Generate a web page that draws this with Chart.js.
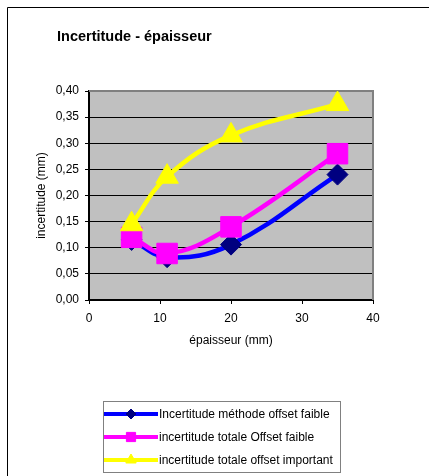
<!DOCTYPE html>
<html>
<head>
<meta charset="utf-8">
<script src="https://cdn.jsdelivr.net/npm/chart.js@4"></script>
<style>
  html, body { margin: 0; padding: 0; background: #fff; overflow: hidden; }
  canvas { display: block; }
</style>
</head>
<body>
<canvas id="incertitudeChart" width="429" height="476"></canvas>
<script>
// Données
const epaisseur = [6, 11, 20, 35];
const methodeOffsetFaible = [0.115, 0.082, 0.106, 0.24];
const totaleOffsetFaible = [0.12, 0.089, 0.14, 0.28];
const totaleOffsetImportant = [0.145, 0.236, 0.315, 0.375];
const yTicks = [0, 0.05, 0.10, 0.15, 0.20, 0.25, 0.30, 0.35, 0.40];
const xTicks = [0, 10, 20, 30, 40];
const seriesLabels = [
    'Incertitude méthode offset faible',
    'incertitude totale Offset faible',
    'incertitude totale offset important'
];

const FONT = 'Liberation Sans, Arial, sans-serif';

function toPoints(ys) {
    return epaisseur.map((x, i) => ({ x: x, y: ys[i] }));
}

// Cadre, fond gris, titre et légende façon Excel
const excelLook = {
    id: 'excelLook',
    beforeDraw(chart) {
        const ctx = chart.ctx;
        const a = chart.chartArea;
        ctx.save();
        ctx.fillStyle = '#fff';
        ctx.fillRect(0, 0, chart.width, chart.height);
        ctx.strokeStyle = '#000';
        ctx.lineWidth = 1;
        ctx.beginPath();
        ctx.moveTo(7.5, chart.height);
        ctx.lineTo(7.5, 7.5);
        ctx.lineTo(chart.width, 7.5);
        ctx.stroke();
        ctx.fillStyle = '#C0C0C0';
        ctx.fillRect(a.left, a.top, a.right - a.left, a.bottom - a.top);
        ctx.restore();
    },
    beforeDatasetsDraw(chart) {
        const ctx = chart.ctx;
        const a = chart.chartArea;
        ctx.save();
        ctx.strokeStyle = '#808080';
        ctx.lineWidth = 2;
        ctx.beginPath();
        ctx.moveTo(a.left, a.top);
        ctx.lineTo(a.right, a.top);
        ctx.lineTo(a.right, a.bottom);
        ctx.stroke();
        ctx.restore();
    },
    afterDraw(chart) {
        const ctx = chart.ctx;
        ctx.save();
        // titre
        ctx.fillStyle = '#000';
        ctx.font = 'bold 14.5px ' + FONT;
        ctx.textAlign = 'left';
        ctx.textBaseline = 'alphabetic';
        ctx.fillText('Incertitude - épaisseur', 57, 41);

        // légende
        ctx.strokeStyle = '#808080';
        ctx.lineWidth = 1;
        ctx.strokeRect(103.5, 401.5, 237, 71);
        const rows = [414, 437, 460];
        const styles = [
            { line: '#0000FF', fill: '#000080', shape: 'rectRot', r: 5 },
            { line: '#FF00FF', fill: '#FF00FF', shape: 'rect', r: 6.5 },
            { line: '#FFFF00', fill: '#FFFF00', shape: 'triangle', r: 6 }
        ];
        rows.forEach((y, i) => {
            const s = styles[i];
            ctx.strokeStyle = s.line;
            ctx.lineWidth = 4;
            ctx.beginPath();
            ctx.moveTo(104, y);
            ctx.lineTo(158, y);
            ctx.stroke();
            ctx.fillStyle = s.fill;
            ctx.strokeStyle = s.fill;
            ctx.lineWidth = 1;
            Chart.helpers.drawPoint(ctx, { pointStyle: s.shape, radius: s.r, rotation: 0, borderWidth: 1 }, 131, y);
            ctx.fillStyle = '#000';
            ctx.font = '12px ' + FONT;
            ctx.textBaseline = 'middle';
            ctx.fillText(seriesLabels[i], 159, y + 0.5);
        });
        ctx.restore();
    }
};

const config = {
    type: 'line',
    data: {
        datasets: [{
            label: seriesLabels[0],
            data: toPoints(methodeOffsetFaible),
            borderColor: '#0000FF',
            backgroundColor: '#000080',
            pointBorderColor: '#000080',
            pointStyle: 'rectRot',
            pointRadius: 10.5,
            pointHoverRadius: 10.5,
            order: 2
        }, {
            label: seriesLabels[1],
            data: toPoints(totaleOffsetFaible),
            borderColor: '#FF00FF',
            backgroundColor: '#FF00FF',
            pointBorderColor: '#FF00FF',
            pointStyle: 'rect',
            pointRadius: 14.5,
            pointHoverRadius: 14.5,
            order: 1
        }, {
            label: seriesLabels[2],
            data: toPoints(totaleOffsetImportant),
            borderColor: '#FFFF00',
            backgroundColor: '#FFFF00',
            pointBorderColor: '#FFFF00',
            pointStyle: 'triangle',
            pointRadius: 13,
            pointHoverRadius: 13,
            order: 0
        }]
    },
    options: {
        responsive: false,
        animation: false,
        events: [],
        layout: {
            padding: { top: 91, right: 56, bottom: 126, left: 0 }
        },
        elements: {
            line: { borderWidth: 4.5, tension: 0.4, fill: false, capBezierPoints: false },
            point: { borderWidth: 1 }
        },
        datasets: {
            line: { clip: false }
        },
        plugins: {
            legend: { display: false },
            title: { display: false },
            tooltip: { enabled: false }
        },
        scales: {
            x: {
                type: 'linear',
                min: xTicks[0],
                max: xTicks[xTicks.length - 1],
                afterBuildTicks(scale) {
                    scale.ticks = xTicks.map(v => ({ value: v }));
                },
                afterFit(scale) { scale.height = 50; },
                ticks: {
                    color: '#000',
                    font: { family: FONT, size: 12 },
                    padding: 7,
                    maxRotation: 0
                },
                grid: {
                    drawOnChartArea: false,
                    drawTicks: true,
                    tickLength: 4,
                    color: '#000',
                    lineWidth: 1
                },
                border: { display: true, color: '#000', width: 2 },
                title: {
                    display: true,
                    text: 'épaisseur (mm)',
                    color: '#000',
                    font: { family: FONT, size: 12 },
                    padding: { top: 0, bottom: 2 }
                }
            },
            y: {
                type: 'linear',
                min: yTicks[0],
                max: yTicks[yTicks.length - 1],
                afterBuildTicks(scale) {
                    scale.ticks = yTicks.map(v => ({ value: v }));
                },
                afterFit(scale) { scale.width = 89; },
                ticks: {
                    color: '#000',
                    font: { family: FONT, size: 12 },
                    padding: 6,
                    callback: v => Number(v).toFixed(2).replace('.', ',')
                },
                grid: {
                    drawOnChartArea: true,
                    drawTicks: true,
                    tickLength: 4,
                    color: '#000',
                    lineWidth: 1
                },
                border: { display: true, color: '#000', width: 2 },
                title: {
                    display: true,
                    text: 'incertitude (mm)',
                    color: '#000',
                    font: { family: FONT, size: 12 },
                    padding: { top: 34, bottom: 0 }
                }
            }
        }
    },
    plugins: [excelLook]
};

const ctx = document.getElementById('incertitudeChart').getContext('2d');
new Chart(ctx, config);
</script>
</body>
</html>
